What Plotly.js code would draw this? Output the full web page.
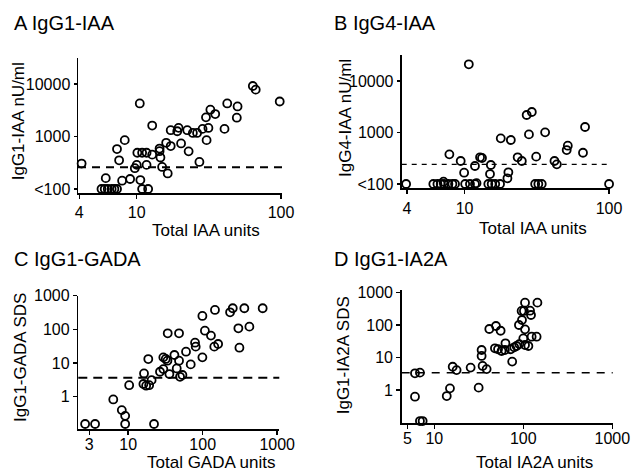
<!DOCTYPE html>
<html>
<head>
<meta charset="utf-8">
<script src="https://cdn.plot.ly/plotly-3.0.1.min.js"></script>
<style>html,body{margin:0;padding:0;background:#fff;}#chart{width:633px;height:474px;}</style>
</head>
<body>
<div id="chart"></div>
<script>
// ---- Data ----
const A_total = [4.15,6.1,5.7,6.0,6.3,6.7,7.0,7.3,7.3,7.55,8.26,7.92,9.0,9.7,10.0,10.1,10.9,11.7,10.5,10.6,10.9,12.0,11.7,12.8,12.8,14.4,14.4,14.6,15.0,16.0,16.4,17.2,17.2,19.1,19.5,20.3,22.4,22.9,24.5,26.2,27.2,28.6,30.2,30.5,31.4,32.4,35.0,40.6,42.4,50.0,49.4,63.8,66.8,98];
const A_igg1  = [305,161,100,100,100,100,100,100,577,352,853,144,155,249,288,490,490,490,4256,148,100,100,288,451,1614,525,590,398,263,759,198,658,1318,1260,1460,738,1318,521,1170,1170,328,1396,2316,853,1455,3236,2677,1396,4256,3733,2280,9160,7810,4640];

const B_total = [3.94,6.08,6.49,6.84,7.21,7.73,8.24,8.59,7.15,7.85,9.4,9.93,10.1,10.9,11.8,12.1,10.7,11.8,12.8,13.2,15.2,15.0,14.6,15.4,16.3,17.6,17.8,20.9,20.1,19.8,23.3,24.9,26.9,29.2,27.9,31.3,30.8,32.4,34.2,36.1,41.9,43.5,51.8,50.9,66,68.2,100];
const B_igg4  = [100,100,100,100,100,100,100,100,111,377,280,166,100,100,100,104,21100,224,330,320,234,156,100,100,100,100,770,715,169,129,330,280,2187,2500,920,340,100,100,100,1007,280,241,555,457,405,1280,100];

const C_total = [2.64,3.59,6.3,8.2,9.1,9.1,10.3,16.3,16.0,17.4,19.1,18.6,20.6,22.2,26.7,29.6,29.6,31.9,33.6,33.9,35.7,41.7,44.8,48.1,48.1,49.6,53.4,59.7,69,78.9,80.5,99,99,107,129,143,146,161,233,253,301,311,362,423,638];
const C_igg1  = [0.155,0.155,0.83,0.40,0.27,0.155,2.2,4.9,2.38,2.12,2.2,13.1,3.1,0.155,5.5,6.6,14.7,13.2,11.7,76,4.7,17.3,6.9,76,11.7,3.9,4.4,21.7,9.1,40,30.6,14.7,249,91,65,30.6,375,36.7,320,421,107,28.5,421,120,421];

const D_total = [6.07,6.9,6.07,6.9,7.4,13.8,15,16.1,17.8,25.6,31.5,34,34,34.9,38.7,41.5,49.3,55.6,48,52,57,62,63,72,75,79,84,90,104.5,114,89.3,96.6,95.7,101.6,104.5,104.5,100,119,122,124,141,144];
const D_igg1  = [3.27,3.42,0.62,0.11,0.11,0.65,1.12,5.2,4.1,4.9,1.18,17.1,11.2,5.5,4.4,76,94,67,19.3,18,15.9,17.1,27.5,18,7.5,20.7,22.7,26,24.4,22.7,101,144,273,273,493,74,39,279,205,44,44,493];

// cut-off (dashed) levels
const cutoffs = [260, 240, 3.67, 3.42];

// tick labels
const A_xticks = [4,10,100];
const IAA_yticks = [100,1000,10000];
const IAA_yticktext = ['<100','1000','10000'];
const C_xticks = [3,10,100,1000];
const D_xticks = [5,10,100,1000];
const SDS_yticks = [1,10,100,1000];

// ---- Styling / layout ----
const FONT = 'Liberation Sans, Arial, Helvetica, sans-serif';
const W = 633, H = 474;
const px = v => v / W;
const py = v => 1 - v / H;

function trace(x, y, xa, ya) {
  return {
    type: 'scatter', mode: 'markers', x: x, y: y, xaxis: xa, yaxis: ya,
    cliponaxis: false, hoverinfo: 'skip',
    marker: {symbol: 'circle-open', size: 8, color: 'black', line: {width: 1.8, color: 'black'}}
  };
}

function axis(opts) {
  return Object.assign({
    type: 'log', showgrid: false, zeroline: false, showline: true,
    linecolor: 'black', linewidth: 1.5, ticks: 'outside', ticklen: 4,
    tickwidth: 1.5, tickcolor: 'black',
    tickfont: {family: FONT, size: 16, color: 'black'}, fixedrange: true
  }, opts);
}

const data = [
  trace(A_total, A_igg1, 'x', 'y'),
  trace(B_total, B_igg4, 'x2', 'y2'),
  trace(C_total, C_igg1, 'x3', 'y3'),
  trace(D_total, D_igg1, 'x4', 'y4')
];

function ann(text, x, y, opts) {
  return Object.assign({text: text, xref: 'paper', yref: 'paper', x: px(x), y: py(y),
    showarrow: false, font: {family: FONT, size: 17, color: 'black'},
    xanchor: 'center', yanchor: 'middle'}, opts || {});
}

function cut(xref, yref, v, dash, width) {
  return {type: 'line', xref: xref + ' domain', x0: 0, x1: 1, yref: yref,
    y0: v, y1: v,
    line: {color: 'black', width: width, dash: dash}};
}

const layout = {
  width: W, height: H, margin: {l: 0, r: 0, t: 0, b: 0},
  paper_bgcolor: 'white', plot_bgcolor: 'white', showlegend: false,
  font: {family: FONT, color: 'black'},
  xaxis:  axis({domain: [px(78), px(282)], range: [0.593, 2.007], anchor: 'y', tickvals: A_xticks, ticktext: A_xticks.map(String)}),
  yaxis:  axis({domain: [py(193), py(58)], range: [1.924, 4.495], anchor: 'x', tickvals: IAA_yticks, ticktext: IAA_yticktext, ticklen: 3}),
  xaxis2: axis({domain: [px(401.7), px(609.5)], range: [0.565, 2.003], anchor: 'y2', tickvals: A_xticks, ticktext: A_xticks.map(String), linewidth: 2}),
  yaxis2: axis({domain: [py(188.3), py(55)], range: [1.917, 4.505], anchor: 'x2', tickvals: IAA_yticks, ticktext: IAA_yticktext, ticklen: 3, linewidth: 2}),
  xaxis3: axis({domain: [px(78.3), px(279.3)], range: [0.330, 3.028], anchor: 'y3', tickvals: C_xticks, ticktext: C_xticks.map(String), ticklabelstandoff: -4}),
  yaxis3: axis({domain: [py(429.3), py(295.6)], range: [-0.967, 3.0], anchor: 'x3', tickvals: SDS_yticks, ticktext: SDS_yticks.map(String)}),
  xaxis4: axis({domain: [px(401.7), px(612.7)], range: [0.634, 3.004], anchor: 'y4', tickvals: D_xticks, ticktext: D_xticks.map(String), ticklabelstandoff: -4}),
  yaxis4: axis({domain: [py(423.3), py(290)], range: [-1.028, 3.083], anchor: 'x4', tickvals: SDS_yticks, ticktext: SDS_yticks.map(String)}),
  shapes: [
    cut('x', 'y', cutoffs[0], '8px,6px', 2),
    cut('x2', 'y2', cutoffs[1], '5px,5px', 1.2),
    cut('x3', 'y3', cutoffs[2], '9px,6px', 2),
    cut('x4', 'y4', cutoffs[3], '8px,7px', 1.5)
  ],
  annotations: [
    ann('A IgG1-IAA', 12, 23, {xanchor: 'left', font: {family: FONT, size: 20, color: 'black'}}),
    ann('B IgG4-IAA', 331.7, 23, {xanchor: 'left', font: {family: FONT, size: 20, color: 'black'}}),
    ann('C IgG1-GADA', 11.7, 259, {xanchor: 'left', font: {family: FONT, size: 20, color: 'black'}}),
    ann('D IgG1-IA2A', 331.7, 259, {xanchor: 'left', font: {family: FONT, size: 20, color: 'black'}}),
    ann('IgG1-IAA nU/ml', 18.3, 121, {textangle: -90}),
    ann('IgG4-IAA nU/ml', 345, 118, {textangle: -90}),
    ann('IgG1-GADA SDS', 20, 358, {textangle: -90}),
    ann('IgG1-IA2A SDS', 343.3, 355, {textangle: -90}),
    ann('Total IAA units', 206, 230),
    ann('Total IAA units', 532.5, 228),
    ann('Total GADA units', 211.7, 462),
    ann('Total IA2A units', 534, 462)
  ]
};

Plotly.newPlot('chart', data, layout, {staticPlot: true, displayModeBar: false});
</script>
</body>
</html>
